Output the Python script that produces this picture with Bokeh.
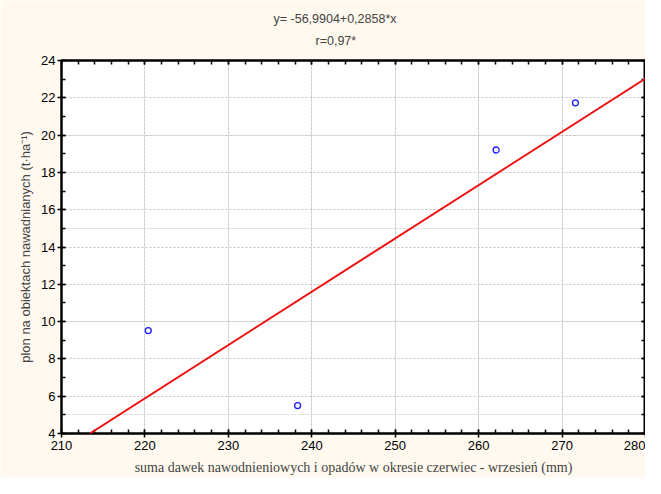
from bokeh.plotting import figure
from bokeh.models import (LinearAxis, FixedTicker, Range1d, Title, Slope, Grid,
                          CustomJSTickFormatter)
from bokeh.embed import file_html
from bokeh.resources import INLINE

# ---- data ----
irrigation_rain_mm = [220.4, 238.3, 262.1, 271.6]
yield_t_ha = [9.52, 5.5, 19.2, 21.73]
reg_intercept = -56.9904
reg_slope = 0.2858
x_major_ticks = [210, 220, 230, 240, 250, 260, 270, 280]
x_minor_ticks = list(range(210, 281, 2))
y_major_ticks = [4, 6, 8, 10, 12, 14, 16, 18, 20, 22, 24]
y_minor_ticks = list(range(4, 25, 1))
title_eq = "y= -56,9904+0,2858*x"
title_r = "r=0,97*"
x_label = "suma dawek nawodnieniowych i opadów w okresie czerwiec - wrzesień (mm)"
y_label = "plon na obiektach nawadnianych (t·ha⁻¹)"

BG = "#FFF9EF"

p = figure(width=645, height=478, output_backend="svg", toolbar_location=None,
           x_range=Range1d(210, 280), y_range=Range1d(4, 24),
           min_border_left=61, min_border_right=0, min_border_top=60, min_border_bottom=45,
           background_fill_color="white", border_fill_color=BG,
           x_axis_location=None, y_axis_location=None)
p.outline_line_color = "black"
p.outline_line_width = 2

def style_axis(ax, labels=True):
    ax.axis_line_width = 2
    ax.axis_line_color = "black"
    ax.major_tick_line_width = 1.5
    ax.minor_tick_line_width = 1.5
    ax.major_tick_in = 4
    ax.major_tick_out = 4 if labels else 0
    ax.minor_tick_in = 4
    ax.minor_tick_out = 0
    ax.major_label_text_font = "Liberation Sans"
    ax.major_label_text_font_size = "13px"
    ax.major_label_text_color = "black" if labels else None

xt = FixedTicker(ticks=x_major_ticks, minor_ticks=x_minor_ticks)
yt = FixedTicker(ticks=y_major_ticks, minor_ticks=y_minor_ticks)

xb = LinearAxis(ticker=xt, axis_label=x_label)
style_axis(xb)
xb.major_label_standoff = 3
xb.axis_label_text_font = "Liberation Serif"
xb.axis_label_text_font_size = "14px"
xb.axis_label_text_font_style = "normal"
xb.axis_label_standoff = 7
p.add_layout(xb, "below")

yl = LinearAxis(ticker=yt, axis_label=y_label)
style_axis(yl)
yl.major_label_standoff = 2
yl.axis_label_text_font = "Liberation Sans"
yl.axis_label_text_font_size = "13px"
yl.axis_label_text_font_style = "normal"
yl.axis_label_standoff = 5
p.add_layout(yl, "left")

xtop = LinearAxis(ticker=xt, formatter=CustomJSTickFormatter(code="return ''"))
style_axis(xtop, labels=False)
xtop.major_label_standoff = 0
p.add_layout(xtop, "above")

# invisible spacer between the top ticks and the titles
spacer = LinearAxis(ticker=FixedTicker(ticks=[245], minor_ticks=[]), axis_line_color=None,
                    major_tick_line_color="black", major_tick_line_alpha=0.003,
                    minor_tick_line_color=None,
                    major_tick_in=0, major_tick_out=10, minor_tick_in=0, minor_tick_out=0,
                    major_label_text_color=None, major_label_standoff=0,
                    formatter=CustomJSTickFormatter(code="return ''"))
p.add_layout(spacer, "above")

yr = LinearAxis(ticker=yt, formatter=CustomJSTickFormatter(code="return ''"))
style_axis(yr, labels=False)
yr.major_label_standoff = 0
p.add_layout(yr, "right")

gx = Grid(dimension=0, ticker=xt, grid_line_color="#c4c4c4", grid_line_dash="2 2", grid_line_width=1)
gy = Grid(dimension=1, ticker=yt, grid_line_color="#c4c4c4", grid_line_dash="2 2", grid_line_width=1)
p.add_layout(gx)
p.add_layout(gy)

p.add_layout(Slope(gradient=reg_slope, y_intercept=reg_intercept, line_color="#ee1111", line_width=2))
p.scatter(irrigation_rain_mm, yield_t_ha, marker="circle", size=6, fill_color=None,
          line_color="#1a1aff", line_width=1.3)

t2 = Title(text=title_r, align="left", offset=254, text_font="Liberation Sans",
           text_font_size="12.5px", text_font_style="normal", standoff=6)
t1 = Title(text=title_eq, align="left", offset=212, text_font="Liberation Sans",
           text_font_size="12.5px", text_font_style="normal", standoff=5)
p.add_layout(t2, "above")
p.add_layout(t1, "above")

open("out.html", "w").write(file_html(p, INLINE))
